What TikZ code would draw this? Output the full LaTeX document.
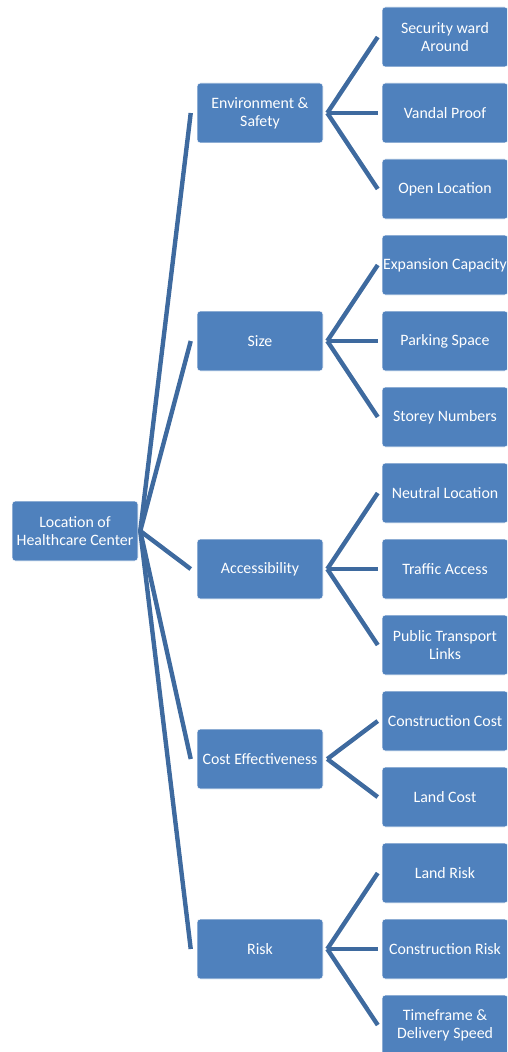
\documentclass[tikz,border=0pt]{standalone}
\usepackage{fontspec}
\setmainfont{Carlito}
\usetikzlibrary{calc}
\definecolor{boxblue}{HTML}{4F81BD}
\definecolor{linkblue}{HTML}{3E6A9F}
\begin{document}
\begin{tikzpicture}[x=0.75pt,y=-0.75pt,
  box/.style={fill=boxblue,draw=white,line width=0.4pt,rounded corners=2.5pt,minimum width=94.5pt,minimum height=45pt,text=white,align=center,font=\fontsize{11.9}{13.5}\selectfont,inner sep=0.5pt},
  link/.style={draw=linkblue,line width=3.3pt}]
\useasboundingbox (0,0) rectangle (507,1052);
\clip (0,0) rectangle (507,1052);
\node[box] (root) at (75,531) {Location of\\Healthcare Center};
\node[box] (env) at (260,113) {Environment \&\\Safety};
\node[box] (size) at (260,341) {Size};
\node[box] (acc) at (260,569) {Accessibility};
\node[box] (cost) at (260,759) {Cost Effectiveness};
\node[box] (risk) at (260,949) {Risk};
\node[box] (sec) at (445,37) {Security ward\\Around};
\node[box] (van) at (445,113) {Vandal Proof};
\node[box] (open) at (445,189) {Open Location};
\node[box] (exp) at (445,265) {Expansion Capacity};
\node[box] (park) at (445,341) {Parking Space};
\node[box] (stor) at (445,417) {Storey Numbers};
\node[box] (neu) at (445,493) {Neutral Location};
\node[box] (traf) at (445,569) {Traffic Access};
\node[box] (pub) at (445,645) {Public Transport\\Links};
\node[box] (ccost) at (445,721) {Construction Cost};
\node[box] (land) at (445,797) {Land Cost};
\node[box] (lrisk) at (445,873) {Land Risk};
\node[box] (crisk) at (445,949) {Construction Risk};
\node[box] (time) at (445,1025) {Timeframe \&\\Delivery Speed};
\coordinate (r0) at ($(root.east)+(2,0)$);
\foreach \n in {env,size,acc,cost,risk}
  \draw[link] (r0) -- ($(\n.west)+(-6,0)$);
\foreach \p/\c in {env/sec,env/van,env/open,size/exp,size/park,size/stor,acc/neu,acc/traf,acc/pub,cost/ccost,cost/land,risk/lrisk,risk/crisk,risk/time}
  \draw[link] ($(\p.east)+(4,0)$) -- ($(\c.west)+(-4,0)$);
\end{tikzpicture}
\end{document}
